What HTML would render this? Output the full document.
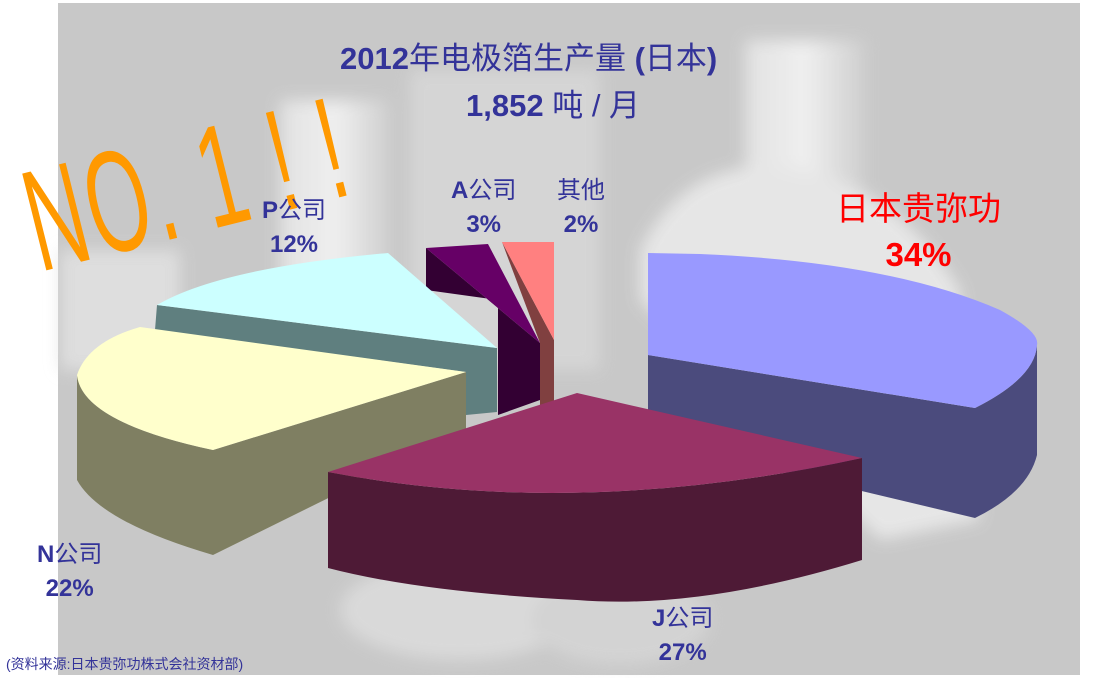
<!DOCTYPE html>
<html><head><meta charset="utf-8"><style>
html,body{margin:0;padding:0;background:#fff}
body{width:1096px;height:678px;overflow:hidden;position:relative;font-family:"Liberation Sans","Noto Sans CJK SC",sans-serif}
.t{position:absolute;color:#333399;white-space:nowrap}
</style></head><body>
<svg width="1096" height="678" style="position:absolute;left:0;top:0">
<defs>
<filter id="b"><feGaussianBlur stdDeviation="8"/></filter>
<linearGradient id="g1" x1="0" x2="1"><stop offset="0" stop-color="#e6e6e6"/><stop offset="0.5" stop-color="#f7f7f7"/><stop offset="1" stop-color="#d0d0d0"/></linearGradient>
</defs>
<rect x="58" y="3" width="1022" height="672" fill="#c8c8c8"/>
<g filter="url(#b)" opacity="0.85">
<rect x="280" y="100" width="110" height="260" fill="url(#g1)"/>
<rect x="410" y="70" width="190" height="300" fill="#d8d8d8"/>
<rect x="745" y="40" width="120" height="280" fill="url(#g1)"/>
<path d="M640,250 Q690,150 800,170 Q900,190 960,290 L980,520 L880,540 L640,300 Z" fill="#ececec"/>
<rect x="60" y="250" width="120" height="120" fill="#e2e2e2"/>
<ellipse cx="460" cy="610" rx="120" ry="50" fill="#dddddd"/>
<ellipse cx="620" cy="620" rx="90" ry="45" fill="#d6d6d6"/>
</g>
<path d="M502,242 L554,340 L554,403 L540,405 L540,343 Z" fill="#804040"/>
<path d="M502,242 L554,242 L554,340 Z" fill="#ff8080"/>
<path d="M426,248 L540,343 L540,400 L498,415 L498,300 L426,290 Z" fill="#330033"/>
<path d="M426,248 L488,244 L540,343 Z" fill="#660066"/>
<path d="M157,305 L497,348 L497,412 L466,415 L466,372 L155,330 Z" fill="#5f7f7f"/>
<path d="M388,253 L497,348 L157,305 Q220,268 388,253 Z" fill="#ccffff"/>
<path d="M213,450 L466,372 L466,430 L213,555 Z" fill="#7f7f62"/>
<path d="M77,375 Q82,422 213,450 L213,555 Q100,522 77,480 Z" fill="#7f7f62"/>
<path d="M466,372 L140,327 Q88,342 77,375 Q82,422 213,450 Z" fill="#ffffcc"/>
<path d="M648,355 L975,408 L975,518 L648,440 Z" fill="#4b4b7d"/>
<path d="M975,408 Q1035,378 1037,345 L1037,455 Q1028,492 975,518 Z" fill="#4b4b7d"/>
<path d="M648,253 L700,254 Q890,262 1000,310 Q1040,332 1037,345 Q1035,378 975,408 L648,355 Z" fill="#9999ff"/>
<path d="M328,472 Q577,520 862,458 L862,560 Q700,610 577,600 Q420,592 328,568 Z" fill="#4e1a36"/>
<path d="M577,393 L862,458 Q577,520 328,472 Z" fill="#993366"/>
<text x="0" y="0" transform="translate(40,272) rotate(-14) scale(0.8,1.45)" font-family="Liberation Sans,sans-serif" font-size="100" fill="#ff9900" letter-spacing="4">NO. 1 ! !</text>
</svg>
<div class="t" style="left:340px;top:33px;font-size:31px;font-weight:bold">2012<span style="font-weight:normal">年电极箔生产量</span> (<span style="font-weight:normal">日本</span>)</div>
<div class="t" style="left:466px;top:80px;font-size:31px;font-weight:bold">1,852 <span style="font-weight:normal">吨 / 月</span></div>
<div class="t" style="left:262px;top:194px;font-size:24px;text-align:center;line-height:34px"><b>P</b>公司<br><b>12%</b></div>
<div class="t" style="left:451px;top:174px;font-size:24px;text-align:center;line-height:34px"><b>A</b>公司<br><b>3%</b></div>
<div class="t" style="left:557px;top:174px;font-size:24px;text-align:center;line-height:34px">其他<br><b>2%</b></div>
<div class="t" style="left:836px;top:186px;font-size:33px;color:#ff0000;text-align:center;line-height:46px">日本贵弥功<br><b>34%</b></div>
<div class="t" style="left:37px;top:538px;font-size:24px;text-align:center;line-height:34px"><b>N</b>公司<br><b>22%</b></div>
<div class="t" style="left:652px;top:602px;font-size:24px;text-align:center;line-height:34px"><b>J</b>公司<br><b>27%</b></div>
<div class="t" style="left:6px;top:654px;font-size:14px">(资料来源:日本贵弥功株式会社资材部)</div>
</body></html>
